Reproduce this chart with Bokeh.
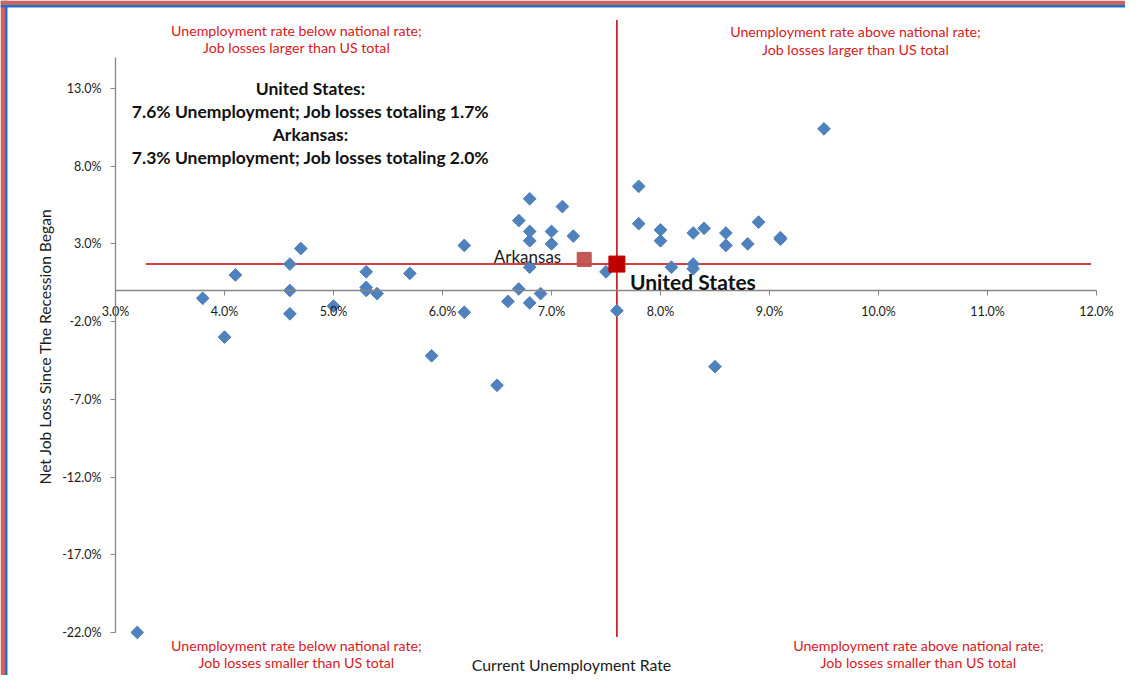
import math
from bokeh.plotting import figure
from bokeh.models import (Range1d, LinearAxis, FixedTicker, PrintfTickFormatter,
                          Label, Span, ColumnDataSource)
from bokeh.embed import file_html
from bokeh.resources import INLINE

# ---------------- data ----------------
state_unemp = [3.2, 3.8, 4.0, 4.1, 4.6, 4.6, 4.6, 4.7, 5.0, 5.3, 5.3, 5.3, 5.4, 5.7,
               5.9, 6.2, 6.2, 6.5, 6.6, 6.7, 6.7, 6.8, 6.8, 6.8, 6.8, 6.8, 6.9, 7.0,
               7.0, 7.1, 7.2, 7.5, 7.6, 7.8, 7.8, 8.0, 8.0, 8.1, 8.3, 8.3, 8.3, 8.4,
               8.5, 8.6, 8.6, 8.8, 8.9, 9.1, 9.1, 9.5]
state_jobloss = [-22.0, -0.5, -3.0, 1.0, 1.7, 0.0, -1.5, 2.7, -1.0, 1.2, 0.2, 0.0, -0.2, 1.1,
                 -4.2, 2.9, -1.4, -6.1, -0.7, 0.1, 4.5, 5.9, 3.8, 3.2, 1.5, -0.8, -0.2, 3.8,
                 3.0, 5.4, 3.5, 1.2, -1.3, 6.7, 4.3, 3.9, 3.2, 1.5, 3.7, 1.7, 1.4, 4.0,
                 -4.9, 3.7, 2.9, 3.0, 4.4, 3.4, 3.3, 10.4]
us_unemp, us_jobloss = 7.6, 1.7
ark_unemp, ark_jobloss = 7.3, 2.0
x_ticks = [3, 4, 5, 6, 7, 8, 9, 10, 11, 12]
y_ticks = [-22, -17, -12, -7, -2, 3, 8, 13]
x_bounds = (3, 12)
y_bounds = (-22, 15)
hline_x = [3.28, 11.95]
vline_y = [-22.3, 17.4]

summary_lines = ["United States:",
                 "7.6% Unemployment; Job losses totaling 1.7%",
                 "Arkansas:",
                 "7.3% Unemployment; Job losses totaling 2.0%"]
q_tl = ["Unemployment rate below national rate;", "Job losses larger than US total"]
q_tr = ["Unemployment rate above national rate;", "Job losses larger than US total"]
q_bl = ["Unemployment rate below national rate;", "Job losses smaller than US total"]
q_br = ["Unemployment rate above national rate;", "Job losses smaller than US total"]

# ---------------- geometry ----------------
W, H = 1125, 675
PX_X = 109.0      # px per 1 % on x
PX_Y = 15.543     # px per 1 % on y
X3 = 115          # canvas x of 3.0 %
Y0 = 290          # canvas y of 0 %
x_start = 3 - X3 / PX_X
x_end = x_start + W / PX_X
y_end = Y0 / PX_Y
y_start = y_end - H / PX_Y


def dx(cx):
    return 3 + (cx - X3) / PX_X


def dy(cy):
    return (Y0 - cy) / PX_Y


FONT = "Lato"
RED_TXT = "#D7191C"

p = figure(width=W, height=H, x_range=Range1d(x_start, x_end),
           y_range=Range1d(y_start, y_end), output_backend="svg",
           toolbar_location=None, min_border=0, x_axis_type=None, y_axis_type=None)
p.outline_line_color = None
p.background_fill_color = "white"
p.border_fill_color = "white"

xaxis = LinearAxis(fixed_location=0, bounds=x_bounds, ticker=FixedTicker(ticks=x_ticks),
                   formatter=PrintfTickFormatter(format="%.1f%%"))
yaxis = LinearAxis(fixed_location=3, bounds=y_bounds, ticker=FixedTicker(ticks=y_ticks),
                   formatter=PrintfTickFormatter(format="%.1f%%"))
for ax, standoff in ((xaxis, 8), (yaxis, 9)):
    ax.axis_line_color = "#868686"
    ax.axis_line_width = 1.3
    ax.major_tick_line_color = "#868686"
    ax.major_tick_out = 5
    ax.major_tick_in = 0
    ax.minor_tick_line_color = None
    ax.major_label_text_font = FONT
    ax.major_label_text_font_size = "12.5px"
    ax.major_label_text_color = "#1a1a1a"
    ax.major_label_standoff = standoff
p.add_layout(xaxis, "below")
p.add_layout(yaxis, "left")

# reference lines through the US point
p.line(x=hline_x, y=[us_jobloss, us_jobloss], line_color="#C00000", line_width=1.5)
p.line(x=[us_unemp, us_unemp], y=vline_y, line_color="#C00000", line_width=1.5)

# states
src = ColumnDataSource(dict(x=state_unemp, y=state_jobloss))
p.scatter("x", "y", source=src, marker="square", size=9, angle=math.pi / 4,
          fill_color="#4F81BD", line_color="#4F81BD")

# Arkansas & US
p.scatter([ark_unemp], [ark_jobloss], marker="square", size=14,
          fill_color="#C0504D", line_color="#C0504D", fill_alpha=0.95)
p.scatter([us_unemp], [us_jobloss], marker="square", size=16,
          fill_color="#C00000", line_color="#C00000")

p.add_layout(Label(x=ark_unemp, y=ark_jobloss, x_offset=-23, y_offset=3, text="Arkansas",
                   text_font=FONT, text_font_size="17px", text_color="#1a1a1a",
                   text_align="right", text_baseline="middle"))
p.add_layout(Label(x=us_unemp, y=us_jobloss, x_offset=13, y_offset=-17, text="United States",
                   text_font=FONT, text_font_size="21px", text_font_style="bold",
                   text_color="#111111", text_align="left", text_baseline="middle"))

# summary block
for line, cy in zip(summary_lines, [88, 111, 134, 157]):
    p.add_layout(Label(x=dx(310), y=dy(cy), text=line, text_font=FONT,
                       text_font_size="17.5px", text_font_style="bold", text_color="#111111",
                       text_align="center", text_baseline="middle"))

# quadrant notes
for lines, cx, ys in ((q_tl, 296, [30, 47]), (q_tr, 855, [31, 49]),
                      (q_bl, 296, [645, 662]), (q_br, 918, [645, 662])):
    for line, cy in zip(lines, ys):
        p.add_layout(Label(x=dx(cx), y=dy(cy), text=line, text_font=FONT,
                           text_font_size="14.2px", text_color=RED_TXT,
                           text_align="center", text_baseline="middle"))

# axis titles
p.add_layout(Label(x=dx(571), y=dy(664), text="Current Unemployment Rate", text_font=FONT,
                   text_font_size="15.8px", text_color="#1a1a1a",
                   text_align="center", text_baseline="middle"))
p.add_layout(Label(x=dx(44), y=dy(346), text="Net Job Loss Since The Recession Began",
                   text_font=FONT, text_font_size="15.6px", text_color="#1a1a1a",
                   angle=math.pi / 2, text_align="center", text_baseline="middle"))

# frame border (pink outer band + blue inner line on top and left)
p.add_layout(Span(location=x_start + 2.25 / PX_X, dimension="height",
                  line_color="#CD6262", line_width=4.5))
p.add_layout(Span(location=x_start + 5.75 / PX_X, dimension="height",
                  line_color="#1B74C8", line_width=2.5))
p.add_layout(Span(location=y_end - 2.25 / PX_Y, dimension="width",
                  line_color="#CD6262", line_width=4.5))
p.add_layout(Span(location=y_end - 5.75 / PX_Y, dimension="width",
                  line_color="#1B74C8", line_width=2.5))

open("out.html", "w").write(file_html(p, INLINE))
